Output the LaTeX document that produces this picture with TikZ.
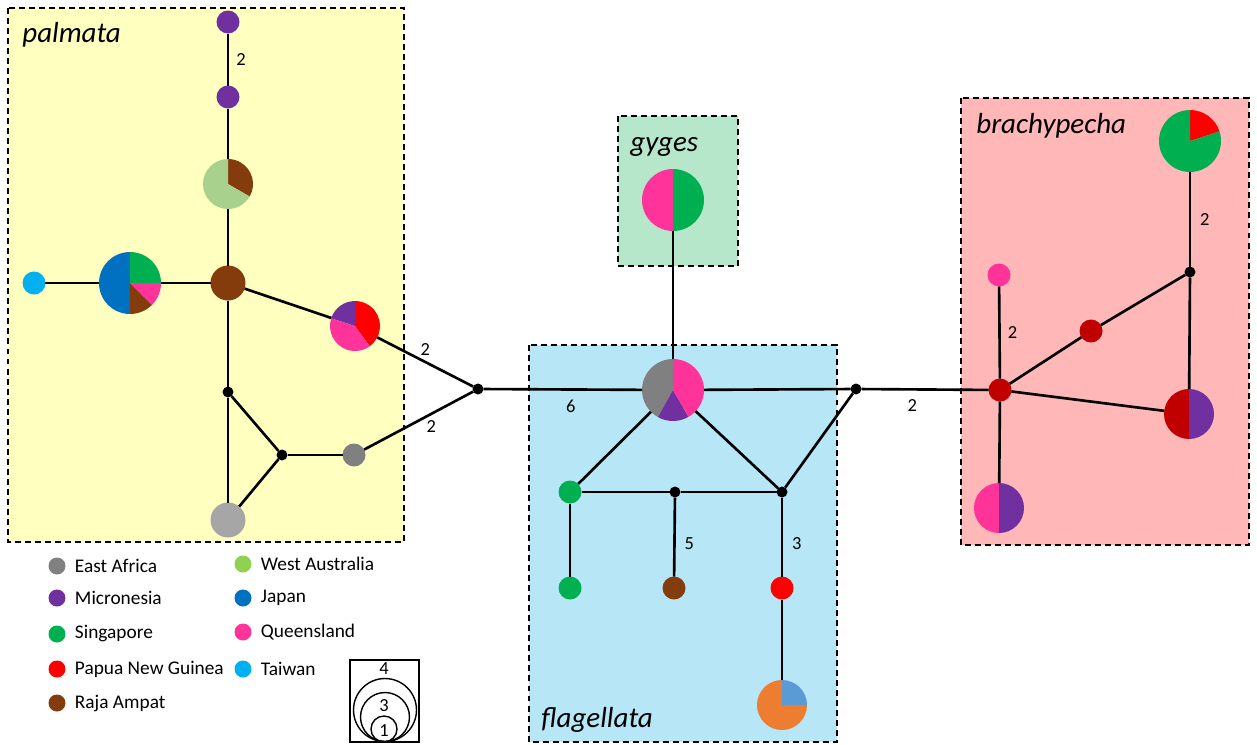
\documentclass[tikz,border=0pt]{standalone}
\usepackage{fontspec}
\setmainfont{Carlito}
\usetikzlibrary{positioning}

\definecolor{eafr}{HTML}{808080}
\definecolor{micr}{HTML}{7030A0}
\definecolor{sing}{HTML}{00B050}
\definecolor{png}{HTML}{FF0000}
\definecolor{raja}{HTML}{843C0C}
\definecolor{waus}{HTML}{92D050}
\definecolor{wausp}{HTML}{A9D18E}
\definecolor{japan}{HTML}{0070C0}
\definecolor{qld}{HTML}{FF3399}
\definecolor{taiw}{HTML}{00B0F0}
\definecolor{dkred}{HTML}{C00000}
\definecolor{lgrey}{HTML}{A6A6A6}
\definecolor{orng}{HTML}{ED7D31}
\definecolor{ltblue}{HTML}{5B9BD5}
\definecolor{palmbg}{HTML}{FFFFC0}
\definecolor{gygbg}{HTML}{B6E7CB}
\definecolor{flagbg}{HTML}{B7E6F7}
\definecolor{brachbg}{HTML}{FFB7B7}

\tikzset{
  cladebox/.style={dashed, dash pattern=on 3.4pt off 2.3pt, line width=0.85pt},
  cladelbl/.style={anchor=base west, inner sep=0pt, font=\fontsize{16.5}{20}\selectfont\itshape},
  hapS/.style={circle, fill=#1, inner sep=0pt, outer sep=0pt, minimum size=0.46cm},
  hapM/.style={circle, fill=#1, inner sep=0pt, outer sep=0pt, minimum size=0.70cm},
  pieL/.style={circle, inner sep=0pt, outer sep=0pt, minimum size=1.0cm},
  pieXL/.style={circle, inner sep=0pt, outer sep=0pt, minimum size=1.24cm},
  junc/.style={circle, fill=black, inner sep=0pt, outer sep=0pt, minimum size=0.22cm},
  link/.style={line width=1.5pt},
  numlbl/.style={inner sep=0pt, font=\fontsize{10.5}{12}\selectfont},
  legdot/.style={circle, fill=#1, inner sep=0pt, minimum size=0.34cm},
  legtxt/.style={inner sep=0pt, font=\fontsize{11}{13}\selectfont},
}

% slices: start/end/colour, angles counter-clockwise
\newcommand{\pieslices}[3]{%
  \foreach \a/\b/\c in {#3}
    \fill[\c] (#1.center) -- ++(\a:#2) arc[start angle=\a, end angle=\b, radius=#2] -- cycle;}

\begin{document}
\begin{tikzpicture}[x=0.02cm, y=-0.02cm]
	\useasboundingbox (0,0) rectangle (1257,744);
	\fill[white] (0,0) rectangle (1257,744);
	% clade boxes
	\draw[cladebox, fill=palmbg] (8,8) rectangle (404,542);
	\draw[cladebox, fill=gygbg] (618,116) rectangle (738,266);
	\draw[cladebox, fill=flagbg] (529,345) rectangle (837,742);
	\draw[cladebox, fill=brachbg] (961,98) rectangle (1249,545);
	\node[cladelbl] at (22,42) {palmata};
	\node[cladelbl] at (630,151) {gyges};
	\node[cladelbl] at (976,133) {brachypecha};
	\node[cladelbl] at (541,727) {flagellata};

	% palmata
	\node[hapS=micr] (p1) at (228,22) {};
	\node[hapS=micr] (p2) at (228,97) {};
	\node[pieL] (p3) at (228,184) {};
	\pieslices{p3}{0.5cm}{-30/90/raja, 90/330/wausp}
	\node[hapM=raja] (p4) at (228,283) {};
	\node[hapS=taiw] (p5) at (34,283) {};
	\node[pieXL] (p6) at (130,283) {};
	\pieslices{p6}{0.62cm}{90/270/japan, 0/90/sing, -45/0/qld, -90/-45/raja}
	\node[pieL] (p7) at (355,326) {};
	\pieslices{p7}{0.5cm}{-54/90/png, 90/162/micr, 162/306/qld}
	\node[junc] (j1) at (228,392) {};
	\node[junc] (j2) at (282,455) {};
	\node[hapS=eafr] (p8) at (354,455) {};
	\node[hapM=lgrey] (p9) at (228,520) {};
	\node[junc] (j3) at (478,389) {};

	% gyges and flagellata
	\node[pieXL] (g1) at (673,200) {};
	\pieslices{g1}{0.62cm}{90/270/qld, -90/90/sing}
	\node[pieXL] (c1) at (673,390) {};
	\pieslices{c1}{0.62cm}{90/241/eafr, 241/300/micr, 300/450/qld}
	\node[hapS=sing] (f1) at (570,492) {};
	\node[junc] (j6) at (675,492) {};
	\node[junc] (j5) at (782,492) {};
	\node[hapS=sing] (f3) at (570,588) {};
	\node[hapS=raja] (f2) at (674,588) {};
	\node[hapS=png] (f4) at (782,588) {};
	\node[pieL] (f5) at (782,705) {};
	\pieslices{f5}{0.5cm}{90/360/orng, 0/90/ltblue}
	\node[junc] (j4) at (856,389) {};

	% brachypecha
	\node[hapS=dkred] (b1) at (1000,390) {};
	\node[hapS=qld] (b2) at (999,275) {};
	\node[hapS=dkred] (b3) at (1091,331) {};
	\node[junc] (j7) at (1190,272) {};
	\node[pieXL] (b4) at (1190,141) {};
	\pieslices{b4}{0.62cm}{18/90/png, 90/378/sing}
	\node[pieL] (b5) at (1189,414) {};
	\pieslices{b5}{0.5cm}{90/270/dkred, -90/90/micr}
	\node[pieL] (b6) at (999,508) {};
	\pieslices{b6}{0.5cm}{90/270/qld, -90/90/micr}

	% links
	\draw[link] (p1) -- node[numlbl, right=4pt] {2} (p2);
	\draw[link] (p2) -- (p3);
	\draw[link] (p3) -- (p4);
	\draw[link] (p4) -- (p6);
	\draw[link] (p6) -- (p5);
	\draw[link] (p4) -- (p7);
	\draw[link] (p4) -- (j1);
	\draw[link] (j1) -- (p9);
	\draw[link] (j1) -- (j2);
	\draw[link] (j2) -- (p9);
	\draw[link] (j2) -- (p8);
	\draw[link] (p7) -- node[numlbl, above=3pt] {2} (j3);
	\draw[link] (p8) -- node[numlbl, pos=0.55, below right=1pt] {2} (j3);
	\draw[link] (j3) -- node[numlbl, pos=0.55, below=5pt] {6} (c1);
	\draw[link] (c1) -- (g1);
	\draw[link] (c1) -- (f1);
	\draw[link] (c1) -- (j5);
	\draw[link] (f1) -- (j6);
	\draw[link] (j6) -- (j5);
	\draw[link] (j6) -- node[numlbl, pos=0.58, right=5pt] {5} (f2);
	\draw[link] (f1) -- (f3);
	\draw[link] (j5) -- node[numlbl, pos=0.58, right=5pt] {3} (f4);
	\draw[link] (f4) -- (f5);
	\draw[link] (j5) -- (j4);
	\draw[link] (c1) -- (j4);
	\draw[link] (j4) -- node[numlbl, pos=0.4, below=5pt] {2} (b1);
	\draw[link] (b1) -- node[numlbl, right=4pt] {2} (b2);
	\draw[link] (b1) -- (b3);
	\draw[link] (b3) -- (j7);
	\draw[link] (j7) -- node[numlbl, right=5pt] {2} (b4);
	\draw[link] (j7) -- (b5);
	\draw[link] (b1) -- (b5);
	\draw[link] (b1) -- (b6);

	% legend
	\node[legdot=eafr] (k1) at (57,566) {};
	\node[legtxt, right=5pt of k1] {East Africa};
	\node[legdot=micr] (k2) at (57,598) {};
	\node[legtxt, right=5pt of k2] {Micronesia};
	\node[legdot=sing] (k3) at (57,634) {};
	\node[legtxt, right=5pt of k3] {Singapore};
	\node[legdot=png] (k4) at (57,669) {};
	\node[legtxt, right=5pt of k4] {Papua New Guinea};
	\node[legdot=raja] (k5) at (57,703) {};
	\node[legtxt, right=5pt of k5] {Raja Ampat};
	\node[legdot=waus] (k6) at (243,564) {};
	\node[legtxt, right=5pt of k6] {West Australia};
	\node[legdot=japan] (k7) at (243,598) {};
	\node[legtxt, right=5pt of k7] {Japan};
	\node[legdot=qld] (k8) at (243,632) {};
	\node[legtxt, right=5pt of k8] {Queensland};
	\node[legdot=taiw] (k9) at (243,669) {};
	\node[legtxt, right=5pt of k9] {Taiwan};

	% size key
	\draw[line width=0.9pt] (350,660) rectangle (419,742);
	\draw[line width=0.8pt] (385,710) circle[radius=0.63cm];
	\draw[line width=0.8pt] (385,717) circle[radius=0.49cm];
	\draw[line width=0.8pt] (384,729) circle[radius=0.26cm];
	\node[numlbl] (s4) at (384,669) {4};
	\node[numlbl] (s3) at (384,706) {3};
	\node[numlbl] (s1) at (384,731) {1};
\end{tikzpicture}
\end{document}
